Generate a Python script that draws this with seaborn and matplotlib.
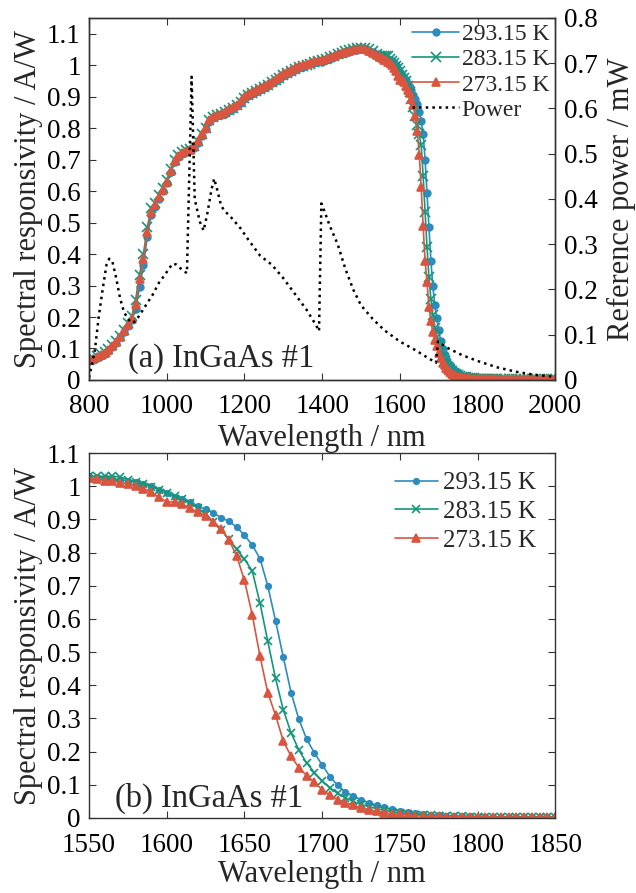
import numpy as np
import matplotlib
matplotlib.use("Agg")
import matplotlib.pyplot as plt
import seaborn as sns

# ---------------- data ----------------
# 800-1540 nm, 10 nm step
wl_low = np.arange(800, 1550, 10)
r293_low = [.060, .065, .069, .075, .082, .092, .105, .119, .135, .152,
            .172, .190, .225, .295, .365, .455, .525, .550, .576, .601,
            .626, .661, .691, .708, .719, .725, .729, .738, .754, .776,
            .796, .820, .831, .837, .841, .846, .854, .860, .869, .880,
            .892, .902, .909, .916, .922, .928, .934, .942, .949, .957,
            .966, .972, .979, .984, .990, .995, .999, 1.003, 1.007, 1.009,
            1.011, 1.015, 1.021, 1.026, 1.031, 1.035, 1.040, 1.043, 1.047, 1.049,
            1.051, 1.050, 1.046, 1.041, 1.035]
r283_low = [.064, .070, .075, .081, .088, .098, .111, .125, .141, .159,
            .180, .202, .255, .335, .400, .485, .545, .562, .586, .611,
            .636, .670, .699, .715, .724, .729, .733, .743, .759, .781,
            .801, .826, .836, .841, .845, .850, .858, .864, .873, .884,
            .895, .905, .912, .919, .925, .931, .937, .945, .952, .960,
            .969, .975, .982, .987, .993, .997, 1.001, 1.005, 1.009, 1.012,
            1.015, 1.019, 1.025, 1.030, 1.035, 1.040, 1.045, 1.049, 1.052, 1.054,
            1.056, 1.055, 1.050, 1.044, 1.037]
r273_low = [.062, .068, .072, .078, .085, .095, .108, .122, .138, .155,
            .175, .195, .240, .320, .385, .470, .535, .555, .580, .605,
            .630, .665, .695, .712, .722, .728, .732, .742, .758, .780,
            .800, .825, .836, .842, .846, .852, .860, .866, .875, .886,
            .898, .908, .915, .922, .928, .934, .940, .948, .955, .963,
            .972, .978, .985, .990, .996, 1.000, 1.004, 1.008, 1.012, 1.014,
            1.016, 1.020, 1.026, 1.030, 1.034, 1.038, 1.042, 1.045, 1.048, 1.050,
            1.052, 1.051, 1.046, 1.040, 1.033]

# 1550-1850 nm, 5 nm step (also panel b)
wl_mid = np.arange(1550, 1855, 5)
r293_mid = [1.030, 1.028, 1.025, 1.022, 1.020, 1.016, 1.012, 1.006, 1.000, 0.989,
            0.978, 0.968, 0.960, 0.953, 0.940, 0.931, 0.920, 0.905, 0.894, 0.877,
            0.852, 0.823, 0.782, 0.700, 0.595, 0.485, 0.378, 0.298, 0.238, 0.196,
            0.160, 0.125, 0.098, 0.079, 0.066, 0.055, 0.046, 0.038, 0.032, 0.026,
            0.021, 0.017, 0.014, 0.011, 0.009, 0.008, 0.007, 0.006, 0.005, 0.005,
            0.004, 0.004, 0.004, 0.004, 0.003, 0.003, 0.003, 0.003, 0.003, 0.003,
            0.003]
r283_mid = [1.030, 1.030, 1.030, 1.030, 1.028, 1.020, 1.013, 1.006, 0.998, 0.990,
            0.980, 0.970, 0.960, 0.950, 0.935, 0.915, 0.893, 0.868, 0.840, 0.810,
            0.780, 0.745, 0.648, 0.533, 0.421, 0.326, 0.257, 0.205, 0.166, 0.137,
            0.112, 0.091, 0.074, 0.061, 0.050, 0.041, 0.034, 0.028, 0.023, 0.019,
            0.015, 0.012, 0.010, 0.009, 0.008, 0.007, 0.006, 0.005, 0.005, 0.004,
            0.004, 0.004, 0.004, 0.003, 0.003, 0.003, 0.003, 0.003, 0.003, 0.003,
            0.003]
r273_mid = [1.025, 1.022, 1.016, 1.016, 1.010, 1.007, 1.000, 0.992, 0.982, 0.966,
            0.953, 0.952, 0.945, 0.933, 0.922, 0.911, 0.893, 0.872, 0.838, 0.790,
            0.716, 0.613, 0.488, 0.378, 0.310, 0.232, 0.186, 0.152, 0.128, 0.108,
            0.085, 0.069, 0.055, 0.046, 0.038, 0.031, 0.025, 0.020, 0.016, 0.013,
            0.011, 0.009, 0.007, 0.006, 0.005, 0.005, 0.004, 0.004, 0.004, 0.003,
            0.003, 0.003, 0.003, 0.002, 0.002, 0.002, 0.002, 0.002, 0.002, 0.002,
            0.002]

# 1860-2000 nm, 10 nm step
wl_high = np.arange(1860, 2010, 10)
r293_high = [0.003] * 15
r283_high = [0.003] * 15
r273_high = [0.002] * 15

# reference power (right axis)
pw_wl = [800, 805, 815, 825, 835, 845, 852, 860, 870, 880, 890, 900, 910, 920,
         935, 950, 965, 980, 995, 1005, 1015, 1025, 1040, 1052, 1064, 1072,
         1085, 1095, 1105, 1115, 1122, 1130, 1140, 1150, 1160, 1175, 1190,
         1210, 1240, 1270, 1300, 1330, 1360, 1385, 1392, 1398, 1405, 1420,
         1440, 1460, 1480, 1500, 1530, 1560, 1600, 1640, 1670, 1693, 1698,
         1720, 1760, 1800, 1850, 1900, 1950, 2000]
pw_val = [0.005, 0.025, 0.066, 0.14, 0.20, 0.255, 0.268, 0.262, 0.225, 0.18,
          0.15, 0.135, 0.126, 0.13, 0.15, 0.17, 0.19, 0.215, 0.232, 0.245,
          0.257, 0.255, 0.243, 0.236, 0.67, 0.40, 0.35, 0.33, 0.37, 0.42,
          0.445, 0.42, 0.385, 0.372, 0.365, 0.35, 0.335, 0.31, 0.275, 0.255,
          0.225, 0.19, 0.155, 0.12, 0.108, 0.39, 0.375, 0.34, 0.30, 0.245,
          0.20, 0.165, 0.135, 0.11, 0.085, 0.066, 0.05, 0.038, 0.085, 0.072,
          0.055, 0.042, 0.028, 0.018, 0.011, 0.007]

labels = ["293.15 K", "283.15 K", "273.15 K"]
colors = ["#2e8bc0", "#14967a", "#d9553f"]
markers = ["o", "x", "^"]
msizes_a = [4.8, 6.5, 6.3]
msizes_b = [4, 6, 5.5]

# ---------------- style ----------------
sns.set_style("ticks", {"xtick.direction": "in", "ytick.direction": "in"})
plt.rcParams["font.family"] = ["Liberation Serif", "DejaVu Serif"]
plt.rcParams["axes.edgecolor"] = "#333333"
plt.rcParams["xtick.color"] = "#333333"
plt.rcParams["ytick.color"] = "#333333"
plt.rcParams["xtick.labelcolor"] = "black"
plt.rcParams["ytick.labelcolor"] = "black"

fig = plt.figure(figsize=(6.36, 8.93), dpi=100)
ax1 = fig.add_axes([0.140, 0.5745, 0.733, 0.4054])
ax2 = fig.add_axes([0.140, 0.0840, 0.733, 0.4087])

fmt = lambda v, p: f"{v:g}"
tick_fs = 19.5
label_fs = 22

# ---------------- panel (a) ----------------
series_a = [
    np.concatenate([r293_low, r293_mid, r293_high]),
    np.concatenate([r283_low, r283_mid, r283_high]),
    np.concatenate([r273_low, r273_mid, r273_high]),
]
wl_all = np.concatenate([wl_low, wl_mid, wl_high])

for vals, lab, c, m, ms in zip(series_a, labels, colors, markers, msizes_a):
    sns.lineplot(x=wl_all, y=vals, ax=ax1, color=c, marker=m, markersize=ms,
                 markeredgecolor=c, markeredgewidth=1.2, linewidth=1.2,
                 label=lab, legend=False)

ax1r = ax1.twinx()
sns.lineplot(x=pw_wl, y=pw_val, ax=ax1r, color="black", linestyle=":",
             linewidth=1.8, label="Power", legend=False)

ax1.set_xlim(800, 2000)
ax1.set_ylim(0, 1.15)
ax1.set_xticks(np.arange(800, 2001, 200))
ax1.set_yticks(np.arange(0, 1.11, 0.1))
ax1.yaxis.set_major_formatter(plt.FuncFormatter(fmt))
ax1r.set_ylim(0, 0.8)
ax1r.set_yticks(np.arange(0, 0.81, 0.1))
ax1r.yaxis.set_major_formatter(plt.FuncFormatter(fmt))

ax1.tick_params(axis="both", labelsize=tick_fs, length=5, top=True, right=False)
ax1.tick_params(axis="x", pad=10)
ax1.tick_params(axis="y", pad=6)
ax1r.tick_params(axis="y", labelsize=tick_fs, length=5, direction="in", pad=6)
ax1.set_xlabel("Wavelength / nm", fontsize=label_fs, labelpad=4)
ax1.set_ylabel("Spectral responsivity / A/W", fontsize=label_fs, labelpad=3)
ax1r.set_ylabel("Reference power / mW", fontsize=label_fs, labelpad=7)
ax1.text(0.084, 0.036, "(a) InGaAs #1", transform=ax1.transAxes,
         fontsize=23.5, va="baseline")

h1, l1 = ax1.get_legend_handles_labels()
h2, l2 = ax1r.get_legend_handles_labels()
ax1r.legend(h1 + h2, l1 + l2, loc="upper right", frameon=False, fontsize=17,
            handlelength=2.0, handletextpad=0.1, labelspacing=0.15,
            borderaxespad=0.05, borderpad=0.2)

# ---------------- panel (b) ----------------
series_b = [r293_mid, r283_mid, r273_mid]
for vals, lab, c, m, ms in zip(series_b, labels, colors, markers, msizes_b):
    sns.lineplot(x=wl_mid, y=vals, ax=ax2, color=c, marker=m, markersize=ms,
                 markeredgecolor=c, markeredgewidth=1.2, linewidth=1.2,
                 label=lab, legend=False)

ax2.set_xlim(1550, 1850)
ax2.set_ylim(0, 1.1)
ax2.set_xticks(np.arange(1550, 1851, 50))
ax2.set_yticks(np.arange(0, 1.11, 0.1))
ax2.yaxis.set_major_formatter(plt.FuncFormatter(fmt))
ax2.tick_params(axis="both", labelsize=tick_fs, length=5, top=True, right=True)
ax2.tick_params(axis="x", pad=11)
ax2.tick_params(axis="y", pad=6)
ax2.set_xlabel("Wavelength / nm", fontsize=label_fs, labelpad=1)
ax2.set_ylabel("Spectral responsivity / A/W", fontsize=label_fs, labelpad=3)
ax2.text(0.056, 0.030, "(b) InGaAs #1", transform=ax2.transAxes,
         fontsize=23.5, va="baseline")
ax2.legend(loc="upper right", frameon=False, fontsize=18, handlelength=1.75,
           handletextpad=0.2, labelspacing=0.25, borderaxespad=0.45,
           borderpad=0.3)

for a in (ax1, ax1r, ax2):
    for s in a.spines.values():
        s.set_linewidth(1.0)

fig.savefig("out.png", dpi=100)
